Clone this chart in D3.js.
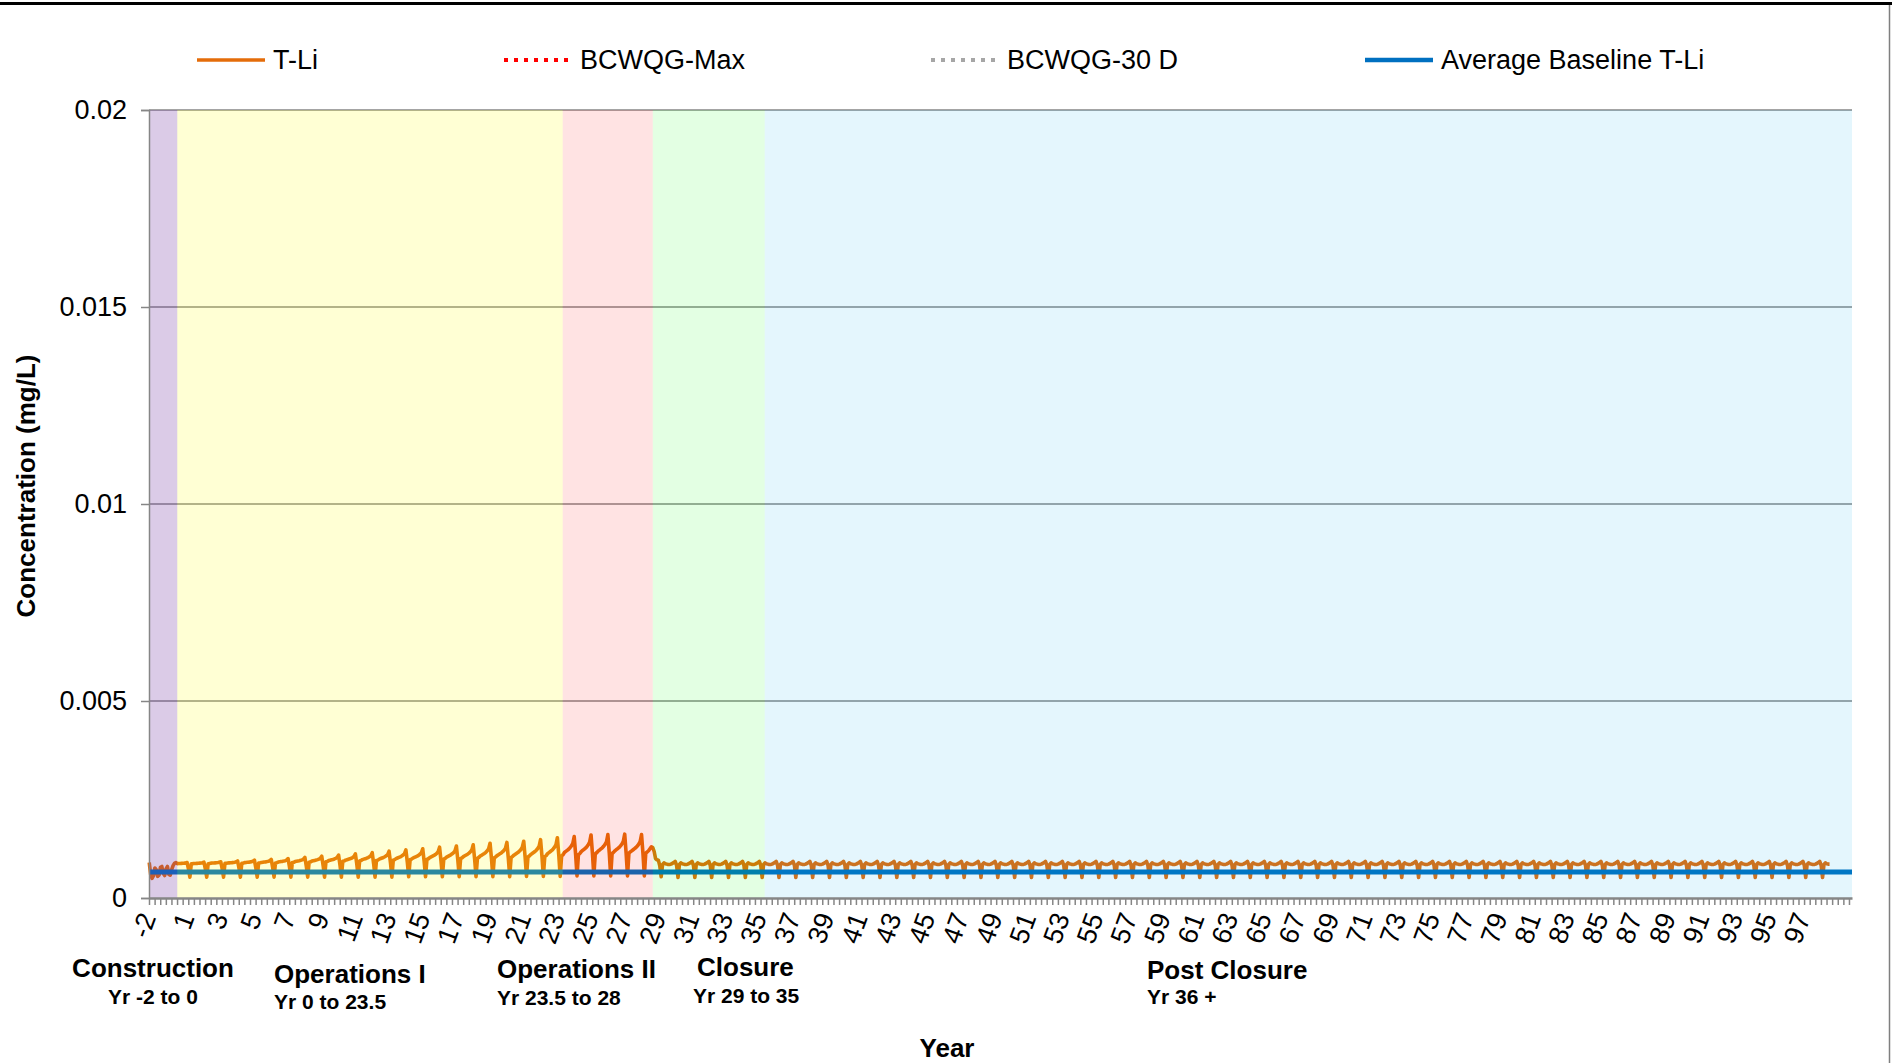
<!DOCTYPE html>
<html>
<head>
<meta charset="utf-8">
<script src="https://cdn.jsdelivr.net/npm/d3@7/dist/d3.min.js"></script>
<style>
  body { margin: 0; background: #fff; }
  svg { display: block; font-family: "Liberation Sans", Arial, sans-serif; }
</style>
</head>
<body>
<svg id="chart" width="1892" height="1063"></svg>
<script>
// ---- data ----
let yTicks = [0, 0.005, 0.01, 0.015, 0.02];
let yTickLabels = ['0', '0.005', '0.01', '0.015', '0.02'];

let xDomain = [-1.68, 99.5];
let xLabelYears = [-1.3, 1, 3, 5, 7, 9, 11, 13, 15, 17, 19, 21, 23, 25, 27, 29, 31, 33, 35,
  37, 39, 41, 43, 45, 47, 49, 51, 53, 55, 57, 59, 61, 63, 65, 67, 69, 71, 73, 75, 77, 79,
  81, 83, 85, 87, 89, 91, 93, 95, 97];
let xLabels = ['-2', '1', '3', '5', '7', '9', '11', '13', '15', '17', '19', '21', '23', '25',
  '27', '29', '31', '33', '35', '37', '39', '41', '43', '45', '47', '49', '51', '53', '55',
  '57', '59', '61', '63', '65', '67', '69', '71', '73', '75', '77', '79', '81', '83', '85',
  '87', '89', '91', '93', '95', '97'];

let phaseNames = ['Construction', 'Operations I', 'Operations II', 'Closure', 'Post Closure'];
let phaseSpans = ['Yr -2 to 0', 'Yr 0 to 23.5', 'Yr 23.5 to 28', 'Yr 29 to 35', 'Yr 36 +'];
let phaseStart = [-1.68, 0, 22.9, 28.25, 34.9];
let phaseEnd = [0, 22.9, 28.25, 34.9, 99.5];

// T-Li, monthly, construction period (months -20 .. -1)
let constructionTLi = [0.00090, 0.00060, 0.00050, 0.00056, 0.00076, 0.00072, 0.00055, 0.00058,
  0.00078, 0.00080, 0.00062, 0.00057, 0.00074, 0.00080, 0.00060, 0.00058, 0.00072, 0.00082,
  0.00088, 0.00090];

// T-Li operations, one entry per year 0..27: plateau after the freshet dip, yearly peak, dip
let opsShoulder = [0.00087, 0.00087, 0.00088, 0.00088, 0.00089, 0.00089, 0.00090, 0.00091,
  0.00092, 0.00093, 0.00094, 0.00095, 0.00096, 0.00097, 0.00098, 0.00099, 0.00100, 0.00101,
  0.00102, 0.00103, 0.00104, 0.00105, 0.00107, 0.00110, 0.00112, 0.00113, 0.00114, 0.00114];
let opsPeak = [0.00090, 0.00091, 0.00092, 0.00094, 0.00096, 0.00098, 0.00100, 0.00103,
  0.00106, 0.00109, 0.00112, 0.00115, 0.00119, 0.00122, 0.00125, 0.00129, 0.00132, 0.00135,
  0.00139, 0.00141, 0.00144, 0.00148, 0.00153, 0.00156, 0.00160, 0.00161, 0.00162, 0.00161];
let opsDip = [0.00053, 0.00053, 0.00053, 0.00053, 0.00053, 0.00053, 0.00053, 0.00053,
  0.00053, 0.00053, 0.00053, 0.00053, 0.00053, 0.00054, 0.00054, 0.00054, 0.00054, 0.00054,
  0.00054, 0.00054, 0.00055, 0.00055, 0.00055, 0.00056, 0.00056, 0.00056, 0.00056, 0.00056];
// month-by-month position inside a year of operations (0 = low, 1 = peak)
let opsShape = [0.12, 0.18, 0.24, 0.30, 0.38, 0.48, 0.62, 1.0, 0.55, 0, 0, 0.06];
let opsShapeFromDip = [false, false, false, false, false, false, false, false, true, true, false, false];

// year 28, end of operations into closure
let transitionTLi = [0.00120, 0.00125, 0.00130, 0.00128, 0.00118, 0.00100, 0.00097, 0.00096,
  0.00082, 0.00054, 0.00085, 0.00089];
// closure / post closure year (repeats years 29..97), then first months of year 98
let closureCycleTLi = [0.00087, 0.00086, 0.00085, 0.00085, 0.00086, 0.00088, 0.00090, 0.00093,
  0.00083, 0.00052, 0.00085, 0.00089];
let closureFirstYear = 29;
let closureLastYear = 97;
let finalTLi = [0.00087, 0.00086, 0.00086];

let baselineYears = [-1.68, 99.5];
let baselineTLi = [0.00066, 0.00066];

let legendNames = ['T-Li', 'BCWQG-Max', 'BCWQG-30 D', 'Average Baseline T-Li'];

// ---- layout and style ----
let W = 1892;
let H = 1063;
let plot = { left: 149, right: 1852, top: 110, bottom: 898 };
let FONT_TICK = 27;
let ORANGE = '#e46c0a';
let BLUE = '#0070c0';
let AXIS_GREY = '#868686';

let phaseFill = ['#7030a0', '#ffff00', '#ff0000', '#00ff00', '#00a8f0'];
let phaseOpacity = [0.25, 0.17, 0.11, 0.11, 0.105];
// label anchors: [x, name baseline, span baseline, anchor]
let phaseLabelPos = [
  [153, 977, 1004, 'middle'],
  [274, 983, 1009, 'start'],
  [497, 978, 1005, 'start'],
  [697, 976, 1003, 'start'],
  [1147, 979, 1004, 'start']
];
let legendX = [197, 504, 931, 1365];
let legendStyle = [
  { stroke: ORANGE, width: 3.5, dash: null },
  { stroke: '#ff0000', width: 4, dash: '4 6' },
  { stroke: '#a6a6a6', width: 4, dash: '4 6' },
  { stroke: BLUE, width: 4.5, dash: null }
];

// ---- build the T-Li series ----
let tli = [];
constructionTLi.forEach((v, i) => {
  tli.push([(i - constructionTLi.length) / 12, v]);
});
opsPeak.forEach((peak, yr) => {
  opsShape.forEach((w, m) => {
    let low = opsShapeFromDip[m] ? opsDip[yr] : opsShoulder[yr];
    tli.push([yr + m / 12, low + w * (peak - low)]);
  });
});
transitionTLi.forEach((v, m) => tli.push([28 + m / 12, v]));
for (let yr = closureFirstYear; yr <= closureLastYear; yr++) {
  closureCycleTLi.forEach((v, m) => tli.push([yr + m / 12, v]));
}
finalTLi.forEach((v, m) => tli.push([closureLastYear + 1 + m / 12, v]));

// ---- draw ----
let svg = d3.select('#chart');
let x = d3.scaleLinear().domain(xDomain).range([plot.left, plot.right]);
let y = d3.scaleLinear().domain([0, 0.02]).range([plot.bottom, plot.top]);

// frame bits around the chart
svg.append('rect')
  .attr('x', 0).attr('y', 2).attr('width', W).attr('height', 3)
  .attr('fill', '#000');
svg.append('line')
  .attr('x1', 1889.5).attr('x2', 1889.5).attr('y1', 5).attr('y2', H)
  .attr('stroke', '#7f7f7f').attr('stroke-width', 1.5);

// gridlines
svg.append('g')
  .selectAll('line')
  .data(yTicks.filter(d => d > 0))
  .join('line')
  .attr('x1', plot.left).attr('x2', plot.right)
  .attr('y1', d => y(d)).attr('y2', d => y(d))
  .attr('stroke', AXIS_GREY).attr('stroke-width', 1.5);

// series
let line = d3.line().x(d => x(d[0])).y(d => y(d[1]));
svg.append('path')
  .datum(tli)
  .attr('fill', 'none')
  .attr('stroke', ORANGE)
  .attr('stroke-width', 3.6)
  .attr('stroke-linejoin', 'round')
  .attr('d', line);
svg.append('path')
  .datum(baselineYears.map((yr, i) => [yr, baselineTLi[i]]))
  .attr('fill', 'none')
  .attr('stroke', BLUE)
  .attr('stroke-width', 4.8)
  .attr('d', line);

// translucent phase bands sit over the lines
svg.append('g')
  .selectAll('rect')
  .data(phaseNames)
  .join('rect')
  .attr('x', (d, i) => x(phaseStart[i]))
  .attr('width', (d, i) => x(phaseEnd[i]) - x(phaseStart[i]))
  .attr('y', plot.top)
  .attr('height', plot.bottom - plot.top)
  .attr('fill', (d, i) => phaseFill[i])
  .attr('fill-opacity', (d, i) => phaseOpacity[i]);

// y axis
let yAxis = svg.append('g')
  .attr('transform', 'translate(' + plot.left + ',0)')
  .call(d3.axisLeft(y).tickValues(yTicks).tickFormat((d, i) => yTickLabels[i])
    .tickSize(8).tickPadding(14));
yAxis.select('.domain').attr('stroke', AXIS_GREY).attr('stroke-width', 1.5);
yAxis.selectAll('.tick line').attr('stroke', AXIS_GREY).attr('stroke-width', 1.5);
yAxis.selectAll('.tick text')
  .attr('font-size', FONT_TICK)
  .attr('font-family', '"Liberation Sans", Arial, sans-serif')
  .attr('fill', '#000');

// x axis: minor ticks every 4 months, rotated year labels
let minorTicks = d3.range(xDomain[0], xDomain[1] + 0.01, 1 / 3);
let xAxis = svg.append('g')
  .attr('transform', 'translate(0,' + plot.bottom + ')')
  .call(d3.axisBottom(x).tickValues(minorTicks).tickFormat('').tickSize(7).tickSizeOuter(0));
xAxis.select('.domain').attr('stroke', AXIS_GREY).attr('stroke-width', 2.5);
xAxis.selectAll('.tick line').attr('stroke', AXIS_GREY).attr('stroke-width', 1.5);

svg.append('g')
  .selectAll('text')
  .data(xLabels)
  .join('text')
  .attr('transform', (d, i) => 'translate(' + (x(xLabelYears[i]) - 8) + ',' + (plot.bottom + 16) + ') rotate(-70)')
  .attr('text-anchor', 'end')
  .attr('dy', '0.35em')
  .attr('font-size', FONT_TICK)
  .attr('fill', '#000')
  .text(d => d);

// phase labels under the axis
let phaseLabels = svg.append('g').attr('font-weight', 'bold').attr('fill', '#000');
phaseLabels.selectAll('text.name')
  .data(phaseNames)
  .join('text')
  .attr('class', 'name')
  .attr('x', (d, i) => phaseLabelPos[i][0])
  .attr('y', (d, i) => phaseLabelPos[i][1])
  .attr('text-anchor', (d, i) => phaseLabelPos[i][3])
  .attr('font-size', 26)
  .text(d => d);
phaseLabels.selectAll('text.span')
  .data(phaseSpans)
  .join('text')
  .attr('class', 'span')
  .attr('x', (d, i) => phaseLabelPos[i][0] - (i === 3 ? 4 : 0))
  .attr('y', (d, i) => phaseLabelPos[i][2])
  .attr('text-anchor', (d, i) => phaseLabelPos[i][3])
  .attr('font-size', 21)
  .text(d => d);

// axis titles
svg.append('text')
  .attr('x', 947).attr('y', 1057)
  .attr('text-anchor', 'middle')
  .attr('font-size', 26).attr('font-weight', 'bold')
  .text('Year');
svg.append('text')
  .attr('transform', 'translate(35,486) rotate(-90)')
  .attr('text-anchor', 'middle')
  .attr('font-size', 26).attr('font-weight', 'bold')
  .text('Concentration (mg/L)');

// legend
let legend = svg.append('g')
  .selectAll('g')
  .data(legendNames)
  .join('g')
  .attr('transform', (d, i) => 'translate(' + legendX[i] + ',60)');
legend.append('line')
  .attr('x1', 0).attr('x2', 68)
  .attr('stroke', (d, i) => legendStyle[i].stroke)
  .attr('stroke-width', (d, i) => legendStyle[i].width)
  .attr('stroke-dasharray', (d, i) => legendStyle[i].dash);
legend.append('text')
  .attr('x', 76)
  .attr('dy', '0.35em')
  .attr('font-size', FONT_TICK)
  .attr('fill', '#000')
  .text(d => d);
</script>
</body>
</html>
